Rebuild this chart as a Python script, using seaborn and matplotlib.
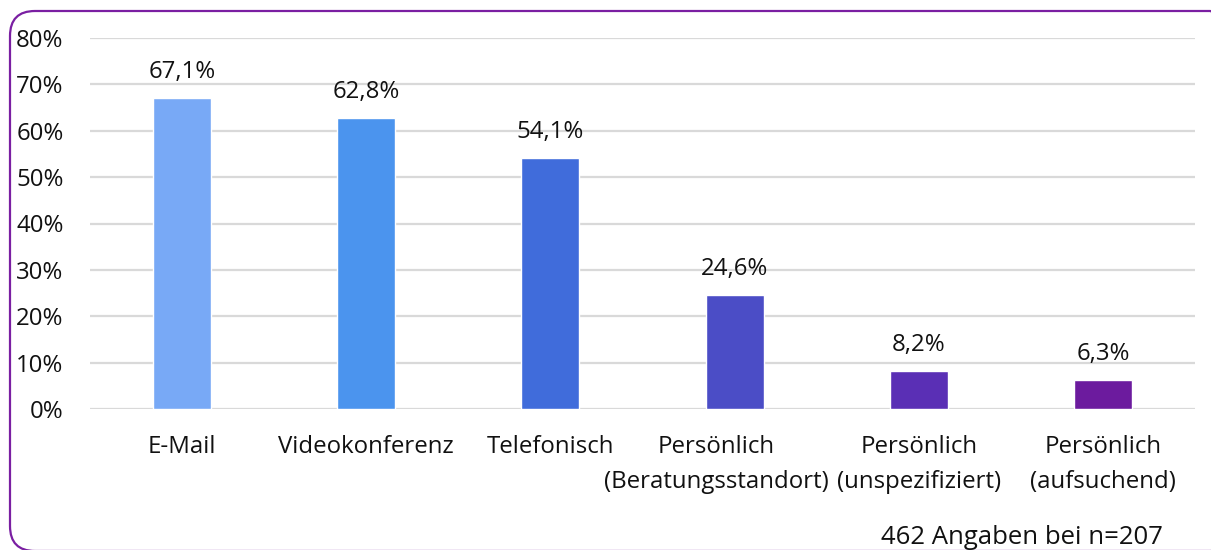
import matplotlib
matplotlib.use("Agg")
import matplotlib.pyplot as plt
from matplotlib.patches import FancyBboxPatch
from matplotlib.transforms import ScaledTranslation
import pandas as pd
import seaborn as sns

categories = [
    "E-Mail",
    "Videokonferenz",
    "Telefonisch",
    "Persönlich\n(Beratungsstandort)",
    "Persönlich\n(unspezifiziert)",
    "Persönlich\n(aufsuchend)",
]
shares = [67.1, 62.8, 54.1, 24.6, 8.2, 6.3]
bar_colors = ["#78a9f6", "#4b94ee", "#406cdb", "#4b4dc6", "#5a2fb5", "#6c1b9e"]
y_ticks = [0, 10, 20, 30, 40, 50, 60, 70, 80]
note = "462 Angaben bei n=207"

df = pd.DataFrame({"Kanal": categories, "Anteil": shares})

sns.set_theme(style="white")
plt.rcParams["font.family"] = ["Open Sans", "DejaVu Sans"]
FS = 17.3

fig = plt.figure(figsize=(12.11, 5.5), dpi=100)
ax = fig.add_axes([90 / 1211, 141 / 550, 1105 / 1211, 371 / 550])

sns.barplot(
    data=df, x="Kanal", y="Anteil", hue="Kanal", palette=bar_colors,
    width=0.315, saturation=1, legend=False, ax=ax, zorder=3,
)
for cont in ax.containers:
    ax.bar_label(cont, labels=[f"{v:.1f}%".replace(".", ",") for v in cont.datavalues],
                 padding=10, fontsize=FS, color="#111111")

ax.set_ylim(0, 80)
ax.set_xlim(-0.5, len(categories) - 0.5)
ax.set_yticks(y_ticks)
ax.set_yticklabels([f"{t}%" for t in y_ticks], fontsize=FS, color="#111111")
ax.tick_params(axis="y", length=0, pad=19)
ax.tick_params(axis="x", length=0, pad=19, labelsize=FS, labelcolor="#111111")
xlabels = ax.get_xticklabels()
for lab in xlabels:
    lab.set_linespacing(1.6)
# the long wrapped label sits a bit to the left, as in the original
xlabels[3].set_transform(xlabels[3].get_transform()
                         + ScaledTranslation(-0.18, 0, fig.dpi_scale_trans))
ax.yaxis.grid(True, color="#d9d9d9", linewidth=1.6, zorder=0)
ax.set_axisbelow(True)
for s in ax.spines.values():
    s.set_visible(False)
ax.set_xlabel("")
ax.set_ylabel("")

fig.text(1022 / 1211, 1 - 537 / 550, note, ha="center", va="center", fontsize=18.5, color="#111111")

border = FancyBboxPatch(
    (0.10, -0.01), 12.25, 5.40,
    boxstyle="round,pad=0,rounding_size=0.25", transform=fig.dpi_scale_trans,
    fill=False, edgecolor="#7a1fa2", linewidth=1.6,
)
fig.patches.append(border)

fig.savefig("out.png", dpi=100)
